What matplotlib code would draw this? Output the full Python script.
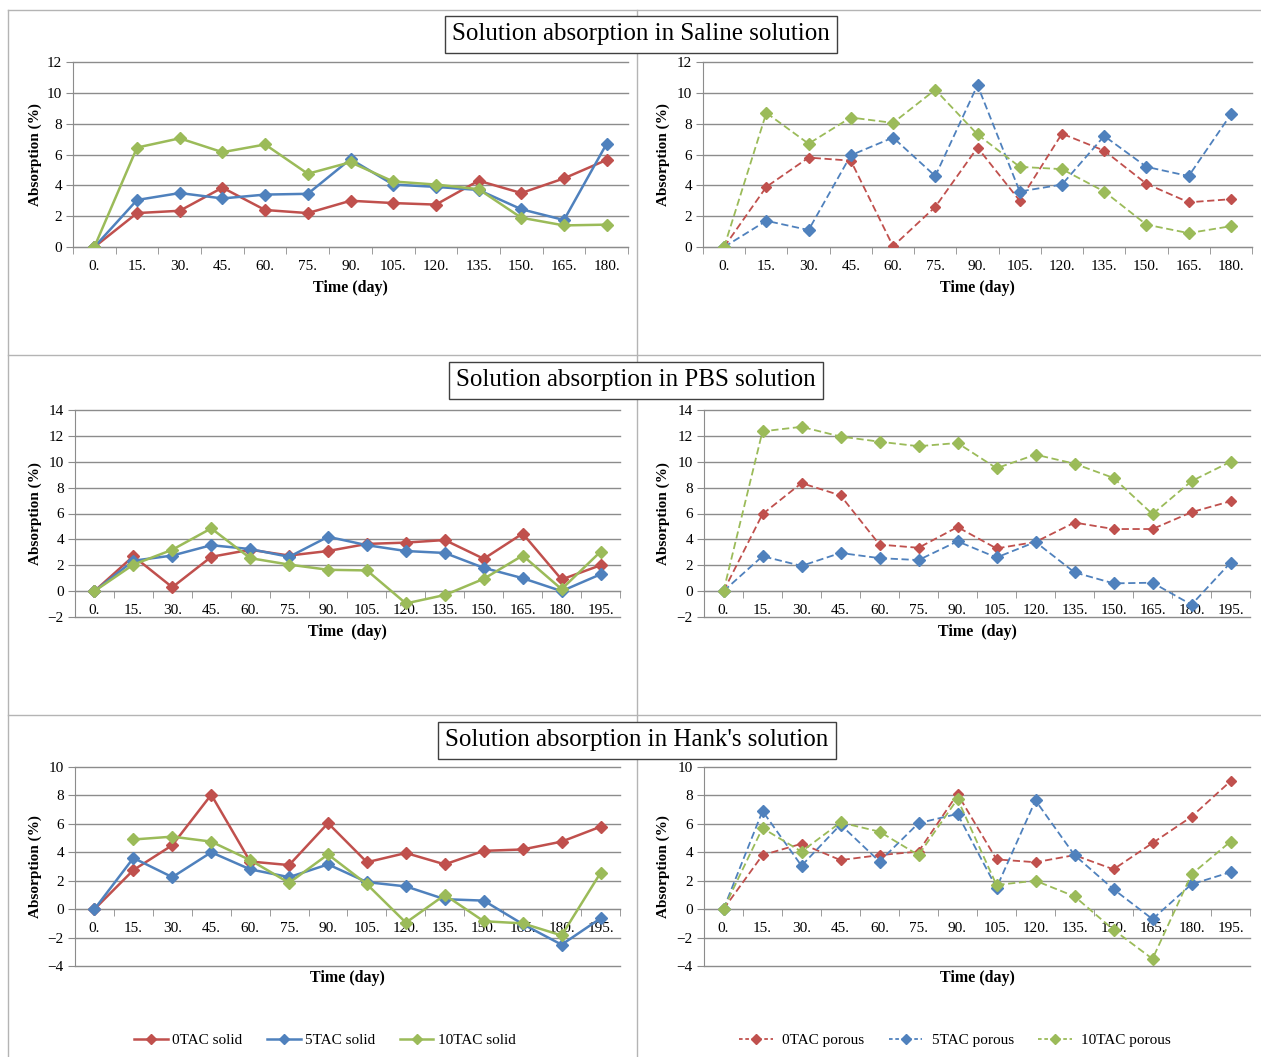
import matplotlib
matplotlib.use('Agg')
import matplotlib.pyplot as plt
import numpy as np
from matplotlib.lines import Line2D

plt.rcParams['font.family'] = ['Liberation Serif', 'DejaVu Serif']

# ---------------- data ----------------
days_a = [0, 15, 30, 45, 60, 75, 90, 105, 120, 135, 150, 165, 180]
days_b = [0, 15, 30, 45, 60, 75, 90, 105, 120, 135, 150, 165, 180, 195]

saline_solid_0 = [0, 2.2, 2.35, 3.85, 2.4, 2.2, 3.0, 2.85, 2.75, 4.3, 3.5, 4.45, 5.65]
saline_solid_5 = [0, 3.05, 3.5, 3.15, 3.4, 3.45, 5.7, 4.05, 3.9, 3.7, 2.45, 1.75, 6.7]
saline_solid_10 = [0, 6.45, 7.05, 6.15, 6.65, 4.75, 5.5, 4.25, 4.05, 3.75, 1.9, 1.4, 1.45]

saline_porous_0 = [0, 3.9, 5.8, 5.6, 0.05, 2.6, 6.45, 3.0, 7.35, 6.25, 4.1, 2.9, 3.1]
saline_porous_5 = [0, 1.7, 1.1, 5.95, 7.1, 4.6, 10.5, 3.6, 4.05, 7.2, 5.2, 4.6, 8.6]
saline_porous_10 = [0, 8.7, 6.7, 8.4, 8.05, 10.2, 7.3, 5.2, 5.05, 3.6, 1.45, 0.9, 1.35]

pbs_solid_0 = [0, 2.7, 0.3, 2.65, 3.2, 2.75, 3.1, 3.65, 3.75, 3.95, 2.5, 4.45, 0.9, 2.0]
pbs_solid_5 = [0, 2.35, 2.75, 3.55, 3.25, 2.65, 4.2, 3.55, 3.1, 2.95, 1.8, 1.0, 0.0, 1.3]
pbs_solid_10 = [0, 2.05, 3.2, 4.85, 2.55, 2.05, 1.65, 1.6, -0.95, -0.3, 0.95, 2.75, 0.15, 3.05]

pbs_porous_0 = [0, 5.95, 8.35, 7.4, 3.6, 3.35, 4.95, 3.3, 3.8, 5.3, 4.8, 4.8, 6.1, 6.95]
pbs_porous_5 = [0, 2.7, 1.95, 2.95, 2.55, 2.4, 3.85, 2.6, 3.8, 1.45, 0.6, 0.65, -1.05, 2.2]
pbs_porous_10 = [0, 12.35, 12.7, 11.95, 11.55, 11.2, 11.45, 9.5, 10.55, 9.85, 8.75, 5.95, 8.5, 10.0]

hank_solid_0 = [0, 2.75, 4.5, 8.05, 3.35, 3.1, 6.05, 3.3, 3.95, 3.15, 4.1, 4.2, 4.75, 5.8]
hank_solid_5 = [0, 3.6, 2.25, 4.0, 2.8, 2.25, 3.15, 1.9, 1.6, 0.7, 0.6, -1.05, -2.5, -0.65]
hank_solid_10 = [np.nan, 4.9, 5.1, 4.75, 3.45, 1.85, 3.85, 1.75, -0.95, 1.0, -0.85, -1.0, -1.85, 2.55]

hank_porous_0 = [0, 3.8, 4.6, 3.45, 3.8, 4.05, 8.1, 3.5, 3.3, 3.8, 2.8, 4.65, 6.5, 9.0]
hank_porous_5 = [0, 6.9, 3.05, 5.95, 3.35, 6.05, 6.7, 1.5, 7.65, 3.8, 1.4, -0.7, 1.75, 2.6]
hank_porous_10 = [0, 5.7, 4.05, 6.1, 5.45, 3.8, 7.75, 1.7, 2.0, 0.9, -1.45, -3.5, 2.45, 4.75]

solid_labels = ['0TAC solid', '5TAC solid', '10TAC solid']
porous_labels = ['0TAC porous', '5TAC porous', '10TAC porous']
titles = ['Solution absorption in Saline solution',
          'Solution absorption in PBS solution',
          "Solution absorption in Hank's solution"]

RED, BLUE, GREEN = '#C0504D', '#4F81BD', '#9BBB59'
GRID = '#8c8c8c'
FRAME = '#b4b4b4'

W, H = 1261, 1057
fig = plt.figure(figsize=(W / 100, H / 100), dpi=100)


def fx(x):
    return x / W


def fy(y):
    return 1 - y / H


def make_ax(l, r, t, b):
    return fig.add_axes([fx(l), fy(b), (r - l) / W, (b - t) / H])


def style(ax, days, lo, hi):
    n = len(days)
    ax.set_xlim(-0.5, n - 0.5)
    ax.set_ylim(lo, hi)
    ax.set_yticks(np.arange(lo, hi + 1, 2))
    ax.yaxis.grid(True, color=GRID, lw=1.0)
    for gl in ax.get_ygridlines():
        gl.set_clip_on(False)
    ax.set_axisbelow(True)
    for s in ['top', 'right']:
        ax.spines[s].set_visible(False)
    ax.spines['left'].set_color(GRID)
    ax.spines['bottom'].set_color(GRID)
    ax.spines['bottom'].set_position(('data', 0))
    ax.set_xticks(np.arange(n))
    ax.set_xticklabels([f'{d}.' for d in days])
    ax.set_xticks(np.arange(n + 1) - 0.5, minor=True)
    ax.tick_params(axis='x', which='major', length=0, labelsize=11, pad=9)
    ax.tick_params(axis='x', which='minor', length=5, color=GRID, direction='out')
    ax.tick_params(axis='y', length=5, color=GRID, labelsize=11, pad=3)


def plot_solid(ax, series):
    x = np.arange(len(series[0]))
    for ys, c in zip(series, [RED, BLUE, GREEN]):
        ax.plot(x, ys, color=c, lw=1.8, marker='D', ms=6.5, mec=c, mfc=c, zorder=3)


def plot_porous(ax, series):
    x = np.arange(len(series[0]))
    for ys, c, ms in zip(series, [RED, BLUE, GREEN], [5, 6.5, 6.5]):
        ax.plot(x, ys, color=c, lw=1.3, ls=(0, (4, 2)), marker='D', ms=ms,
                mec=c, mfc=c, zorder=3)


# panel geometry in pixels: (left, right, top, bottom)
geo = [
    (73, 628, 62, 247), (703, 1252, 62, 247),
    (75, 620, 410, 617), (704, 1250, 410, 617),
    (75, 620, 767, 966), (704, 1250, 767, 966),
]
ranges = [(0, 12), (0, 12), (-2, 14), (-2, 14), (-4, 10), (-4, 10)]
dayset = [days_a, days_a, days_b, days_b, days_b, days_b]
data = [
    [saline_solid_0, saline_solid_5, saline_solid_10],
    [saline_porous_0, saline_porous_5, saline_porous_10],
    [pbs_solid_0, pbs_solid_5, pbs_solid_10],
    [pbs_porous_0, pbs_porous_5, pbs_porous_10],
    [hank_solid_0, hank_solid_5, hank_solid_10],
    [hank_porous_0, hank_porous_5, hank_porous_10],
]
xlabels = ['Time (day)', 'Time (day)', 'Time  (day)', 'Time  (day)', 'Time (day)', 'Time (day)']
xlabel_y = [288, 288, 632, 632, 978, 978]

for i in range(6):
    l, r, t, b = geo[i]
    ax = make_ax(l, r, t, b)
    lo, hi = ranges[i]
    style(ax, dayset[i], lo, hi)
    if i % 2 == 0:
        plot_solid(ax, data[i])
    else:
        plot_porous(ax, data[i])
    ylab_x = 35 if i % 2 == 0 else 663
    fig.text(fx(ylab_x), fy((t + b) / 2), 'Absorption (%)', rotation=90,
             ha='center', va='center', fontsize=11, fontweight='bold')
    fig.text(fx((l + r) / 2 + 0), fy(xlabel_y[i]), xlabels[i], ha='center',
             va='center', fontsize=11.5, fontweight='bold')

# frame / separator lines
lines = [
    ((8, W), (10, 10)), ((8, 8), (10, H)), ((8, W), (355, 355)),
    ((8, W), (715, 715)), ((637, 637), (10, H)),
]
for xs, ys in lines:
    fig.add_artist(Line2D([fx(xs[0]), fx(xs[1])], [fy(ys[0]), fy(ys[1])],
                          color=FRAME, lw=1.0))

# title boxes
title_pos = [(641, 34), (636, 380), (637, 740)]
for (cx, cy), tt in zip(title_pos, titles):
    fig.text(fx(cx), fy(cy), tt, ha='center', va='center', fontsize=18,
             bbox=dict(boxstyle='square,pad=0.3', fc='white', ec='#404040', lw=1.0),
             zorder=10)

# legends
solid_handles = [Line2D([], [], color=c, lw=1.8, marker='D', ms=5, mfc=c, mec=c)
                 for c in [RED, BLUE, GREEN]]
porous_handles = [Line2D([], [], color=c, lw=1.3, ls=(0, (2, 1.5)), marker='D', ms=5,
                         mfc=c, mec=c) for c in [RED, BLUE, GREEN]]
fig.legend(solid_handles, solid_labels, loc='center', ncol=3,
           bbox_to_anchor=(fx(325), fy(1040)), frameon=False, fontsize=11,
           handlelength=2.2, columnspacing=1.6, handletextpad=0.3)
fig.legend(porous_handles, porous_labels, loc='center', ncol=3,
           bbox_to_anchor=(fx(955), fy(1040)), frameon=False, fontsize=11,
           handlelength=2.2, columnspacing=1.6, handletextpad=0.6)

fig.savefig('out.png', dpi=100, facecolor='white')
